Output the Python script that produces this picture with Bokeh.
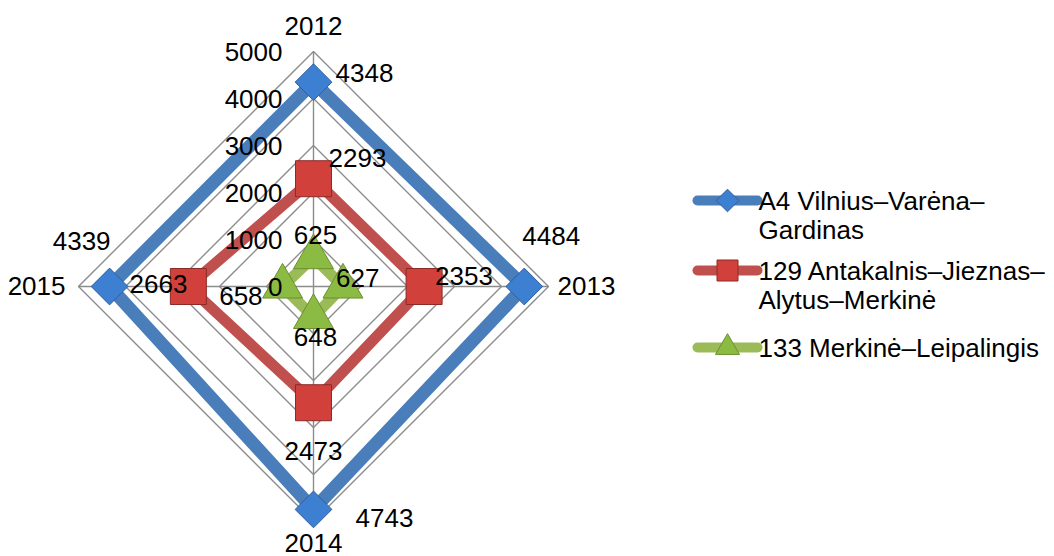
import numpy as np
from bokeh.plotting import figure
from bokeh.models import Range1d
from bokeh.embed import file_html
from bokeh.resources import INLINE
from bokeh.core.properties import value

# ---------------- data ----------------
years = ["2012", "2013", "2014", "2015"]
a4_values = [4348, 4484, 4743, 4339]
r129_values = [2293, 2353, 2473, 2663]
r133_values = [625, 627, 648, 658]
series_names = ["A4 Vilnius–Varėna–Gardinas",
                "129 Antakalnis–Jieznas–Alytus–Merkinė",
                "133 Merkinė–Leipalingis"]
legend_lines = [["A4 Vilnius–Varėna–", "Gardinas"],
                ["129 Antakalnis–Jieznas–", "Alytus–Merkinė"],
                ["133 Merkinė–Leipalingis"]]
tick_values = [0, 1000, 2000, 3000, 4000, 5000]
r_max = 5000

# ---------------- layout ----------------
W, H = 1054, 556
CX, CY = 313, 286        # centre of radar, px from top-left
R_PX = 235               # px for r_max
S = r_max / R_PX         # data units per px
FONT = value("Liberation Sans")
FS = "26px"

def P(px, py):
    return (px - CX) * S, (CY - py) * S

dirs = [(0, 1), (1, 0), (0, -1), (-1, 0)]

p = figure(width=W, height=H, output_backend="svg", toolbar_location=None,
           x_range=Range1d(-CX * S, (W - CX) * S),
           y_range=Range1d(-(H - CY) * S, CY * S),
           min_border=0)
p.axis.visible = False
p.grid.visible = False
p.outline_line_color = None
p.background_fill_color = "white"
p.border_fill_color = "white"

# grid polygons and spokes
grid_col = "#8c8c8c"
for t in tick_values[1:]:
    xs = [t * dx for dx, dy in dirs] + [t * dirs[0][0]]
    ys = [t * dy for dx, dy in dirs] + [t * dirs[0][1]]
    p.line(xs, ys, line_color=grid_col, line_width=1.4)
p.segment(x0=[0] * 4, y0=[0] * 4,
          x1=[r_max * dx for dx, dy in dirs], y1=[r_max * dy for dx, dy in dirs],
          line_color=grid_col, line_width=1.4)

# series
series = [
    dict(vals=a4_values, line="#4a7ebb", width=13, fill="#3d7fd0", edge="#2f5f9c",
         marker="square", angle=np.pi / 4, size=26, lsize=16),
    dict(vals=r129_values, line="#c0504d", width=11, fill="#d1403b", edge="#8c2a27",
         marker="square", angle=0, size=36, lsize=21),
    dict(vals=r133_values, line="#9bbb59", width=11, fill="#8cbb43", edge="#6b8f2f",
         marker="triangle", angle=0, size=40, lsize=24),
]
for s in series:
    xs = [v * dx for v, (dx, dy) in zip(s["vals"], dirs)]
    ys = [v * dy for v, (dx, dy) in zip(s["vals"], dirs)]
    p.line(xs + xs[:1], ys + ys[:1], line_color=s["line"], line_width=s["width"],
           line_join="round")
for s in series:
    xs = [v * dx for v, (dx, dy) in zip(s["vals"], dirs)]
    ys = [v * dy for v, (dx, dy) in zip(s["vals"], dirs)]
    p.scatter(xs, ys, marker=s["marker"], angle=s["angle"], size=s["size"],
              fill_color=s["fill"], line_color=s["edge"], line_width=1)

# data labels: (dx px right, dy px up, align) per point
label_style = [
    [(22, 9, "left"), (-2, 51, "left"), (42, -9, "left"), (1, 46, "right")],
    [(15, 21, "left"), (11, 11, "left"), (0, -48, "center"), (-1, 3, "right")],
    [(2, 22, "center"), (-7, 9, "left"), (2, -20, "center"), (-20, -9, "right")],
]
for s, styles in zip(series, label_style):
    for v, (dx, dy), (ox, oy, al) in zip(s["vals"], dirs, styles):
        p.text(x=[v * dx + ox * S], y=[v * dy + oy * S], text=[str(v)],
               text_align=al, text_baseline="middle", text_font=FONT,
               text_font_size=FS, text_color="black")

# tick labels along the 2012 axis
p.text(x=[-31 * S] * len(tick_values), y=tick_values,
       text=[str(t) for t in tick_values], text_align="right",
       text_baseline="middle", text_font=FONT, text_font_size=FS, text_color="black")

# category labels
cat_style = [(0, 26, "center"), (9, 1, "left"), (0, -21, "center"), (-13, 1, "right")]
for yr, (dx, dy), (ox, oy, al) in zip(years, dirs, cat_style):
    p.text(x=[r_max * dx + ox * S], y=[r_max * dy + oy * S], text=[yr],
           text_align=al, text_baseline="middle", text_font=FONT,
           text_font_size=FS, text_color="black")

# legend
leg_y = [200, 270, 347]
for s, lines, ly in zip(series, legend_lines, leg_y):
    x0, y0 = P(697, ly)
    x1, _ = P(757, ly)
    xm, _ = P(727, ly)
    p.line([x0, x1], [y0, y0], line_color=s["line"], line_width=10, line_cap="round")
    p.scatter([xm], [y0], marker=s["marker"], angle=s["angle"],
              size=s["lsize"], fill_color=s["fill"], line_color=s["edge"])
    for k, t in enumerate(lines):
        tx, ty = P(758, ly + 29 * k)
        p.text(x=[tx], y=[ty], text=[t], text_align="left", text_baseline="middle",
               text_font=FONT, text_font_size=FS, text_color="black")

open("out.html", "w").write(file_html(p, INLINE))
